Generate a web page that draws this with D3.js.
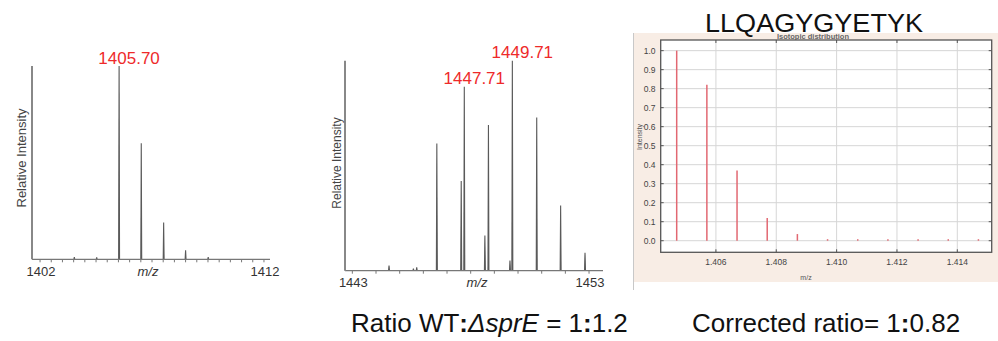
<!DOCTYPE html>
<html>
<head>
<meta charset="utf-8">
<script src="https://cdn.jsdelivr.net/npm/d3@7"></script>
<style>
body { margin: 0; background: #fff; }
svg { display: block; font-family: "Liberation Sans", Arial, sans-serif; }
</style>
</head>
<body>
<svg width="998" height="341"></svg>
<script>
// WT spectrum (left)
var wtMz = [1403.53, 1404.53, 1405.53, 1406.52, 1407.52, 1408.50, 1409.51];
var wtInt = [0.012, 0.01, 1.0, 0.6, 0.19, 0.047, 0.012];
var wtLabels = [{ peak: 2, text: "1405.70" }];
var wtTicks = [1402, 1412];

// mixed WT / sprE spectrum (middle)
var mixMz = [1444.55, 1445.58, 1445.72, 1446.57, 1447.60, 1447.73, 1448.60, 1448.75, 1449.66, 1449.76, 1450.79, 1451.80, 1452.83];
var mixInt = [0.024, 0.01, 0.016, 0.606, 0.427, 0.876, 0.167, 0.694, 0.048, 1.0, 0.73, 0.31, 0.086];
var mixLabels = [{ peak: 5, text: "1447.71" }, { peak: 9, text: "1449.71" }];
var mixTicks = [1443, 1453];

// theoretical isotope distribution (right)
var isoMz = [1.4047, 1.4057, 1.4067, 1.4077, 1.4087, 1.4097, 1.4107, 1.4117, 1.4127, 1.4137, 1.4147];
var isoInt = [1.0, 0.82, 0.37, 0.12, 0.035, 0.008, 0.003, 0.003, 0.002, 0.002, 0.002];
var isoXTicks = [1.406, 1.408, 1.410, 1.412, 1.414];
var isoYTicks = [0.0, 0.1, 0.2, 0.3, 0.4, 0.5, 0.6, 0.7, 0.8, 0.9, 1.0];

var svg = d3.select("svg");

function spectrum(mz, inten, labels, ticks, o) {
	var g = svg.append("g");
	var x = d3.scaleLinear().domain(o.dom).range(o.range);
	var y = d3.scaleLinear().domain([0, 1]).range([o.base, o.top]);

	var peak = d3.line().x(d => x(d[0])).y(d => y(d[1]));
	mz.forEach((m, i) => {
		g.append("path")
			.attr("d", peak([[m - 0.02, 0], [m, inten[i]], [m + 0.02, 0]]))
			.attr("fill", "#5a5a5a")
			.attr("stroke", "#5a5a5a")
			.attr("stroke-width", 1.1);
	});

	// minor ticks along the baseline
	g.selectAll(".mt")
		.data(d3.range(ticks[0], ticks[1] + 0.001, o.step))
		.enter().append("line")
		.attr("x1", d => x(d)).attr("x2", d => x(d))
		.attr("y1", o.base).attr("y2", o.base + 3)
		.attr("stroke", "#777").attr("stroke-width", 1);

	g.append("line")
		.attr("x1", o.range[0]).attr("x2", o.range[1])
		.attr("y1", o.base).attr("y2", o.base)
		.attr("stroke", "#777").attr("stroke-width", 1.3);
	g.append("line")
		.attr("x1", o.range[0]).attr("x2", o.range[0])
		.attr("y1", o.base).attr("y2", o.top)
		.attr("stroke", "#888").attr("stroke-width", 2);

	g.selectAll(".tl")
		.data(ticks)
		.enter().append("text")
		.attr("x", d => x(d) + 1)
		.attr("y", o.base + 16.5)
		.attr("text-anchor", "middle")
		.attr("font-size", 13)
		.attr("fill", "#333")
		.text(d => d);

	g.append("text")
		.attr("x", o.mzX)
		.attr("y", o.base + 16.5)
		.attr("text-anchor", "middle")
		.attr("font-size", 13)
		.attr("font-style", "italic")
		.attr("fill", "#333")
		.text("m/z");

	g.append("text")
		.attr("transform", "translate(" + o.yLabX + "," + o.yLabY + ") rotate(-90)")
		.attr("text-anchor", "middle")
		.attr("font-size", o.yLabSize)
		.attr("fill", "#444")
		.text("Relative Intensity");

	labels.forEach(l => {
		g.append("text")
			.attr("x", x(mz[l.peak]) + 10)
			.attr("y", y(inten[l.peak]) - 2.5)
			.attr("text-anchor", "middle")
			.attr("font-size", 17)
			.attr("fill", "#ee2a2a")
			.text(l.text);
	});
}

spectrum(wtMz, wtInt, wtLabels, wtTicks, {
	dom: [1401.64, 1412.27], range: [32, 270], base: 259.3, top: 66,
	step: 0.5, mzX: 148, yLabX: 25.5, yLabY: 158, yLabSize: 13
});
spectrum(mixMz, mixInt, mixLabels, mixTicks, {
	dom: [1442.69, 1453.59], range: [345, 603], base: 270.7, top: 60.7,
	step: 1, mzX: 477, yLabX: 340.5, yLabY: 163, yLabSize: 12
});

// right panel
var p = svg.append("g");
p.append("clipPath").attr("id", "pclip")
	.append("rect").attr("x", 633).attr("y", 34).attr("width", 365).attr("height", 260);
p.append("rect")
	.attr("x", 633).attr("y", 33).attr("width", 365).attr("height", 249)
	.attr("fill", "#f8ede5");
p.append("line")
	.attr("x1", 633.5).attr("x2", 633.5).attr("y1", 33).attr("y2", 290)
	.attr("stroke", "#c8c8c8");
p.append("text")
	.attr("clip-path", "url(#pclip)")
	.attr("x", 813).attr("y", 38.5)
	.attr("text-anchor", "middle")
	.attr("font-size", 7.5).attr("font-weight", "bold")
	.attr("fill", "#666")
	.text("Isotopic distribution");

var px = d3.scaleLinear().domain([1.40417, 1.41514]).range([660.7, 991.7]);
var py = d3.scaleLinear().domain([-0.061, 1.056]).range([252.3, 40]);

p.append("rect")
	.attr("x", 660.7).attr("y", 40).attr("width", 331).attr("height", 212.3)
	.attr("fill", "#fff");

p.selectAll(".gx").data(isoXTicks).enter().append("line")
	.attr("x1", d => px(d)).attr("x2", d => px(d))
	.attr("y1", 40).attr("y2", 252.3)
	.attr("stroke", "#d6d6d6");
p.selectAll(".gy").data(isoYTicks).enter().append("line")
	.attr("x1", 660.7).attr("x2", 991.7)
	.attr("y1", d => py(d)).attr("y2", d => py(d))
	.attr("stroke", "#d6d6d6");

// inside ticks on all four sides
p.selectAll(".tb").data(isoXTicks).enter().append("path")
	.attr("d", d => "M" + px(d) + ",252.3v-3M" + px(d) + ",40v3")
	.attr("stroke", "#555");
p.selectAll(".tlr").data(isoYTicks).enter().append("path")
	.attr("d", d => "M660.7," + py(d) + "h3M991.7," + py(d) + "h-3")
	.attr("stroke", "#555");

p.selectAll(".stem").data(isoMz).enter().append("line")
	.attr("x1", d => px(d)).attr("x2", d => px(d))
	.attr("y1", py(0))
	.attr("y2", (d, i) => Math.min(py(isoInt[i]), py(0) - 1.5))
	.attr("stroke", "#e26872")
	.attr("stroke-width", 1.5);

p.append("rect")
	.attr("x", 660.7).attr("y", 40).attr("width", 331).attr("height", 212.3)
	.attr("fill", "none").attr("stroke", "#555").attr("stroke-width", 1.3);

p.selectAll(".yl").data(isoYTicks).enter().append("text")
	.attr("x", 655.5).attr("y", d => py(d) + 3)
	.attr("text-anchor", "end")
	.attr("font-size", 8.5).attr("fill", "#444")
	.text(d => d.toFixed(1));
p.selectAll(".xl").data(isoXTicks).enter().append("text")
	.attr("x", d => px(d)).attr("y", 264.5)
	.attr("text-anchor", "middle")
	.attr("font-size", 8.5).attr("fill", "#444")
	.text(d => d.toFixed(3));
p.append("text")
	.attr("x", 806).attr("y", 279.5)
	.attr("text-anchor", "middle")
	.attr("font-size", 7).attr("fill", "#555")
	.text("m/z");
p.append("text")
	.attr("transform", "translate(642,137) rotate(-90)")
	.attr("text-anchor", "middle")
	.attr("font-size", 7).attr("fill", "#555")
	.text("Intensity");

svg.append("text")
	.attr("x", 705).attr("y", 31.7)
	.attr("font-size", 25.5)
	.attr("textLength", 218).attr("lengthAdjust", "spacingAndGlyphs")
	.attr("fill", "#111")
	.text("LLQAGYGYETYK");

// ratios under the plots
var r1 = svg.append("text").attr("x", 351).attr("y", 331.5).attr("font-size", 26).attr("fill", "#111");
r1.append("tspan").text("Ratio WT");
r1.append("tspan").attr("font-weight", "bold").text(":");
r1.append("tspan").attr("font-style", "italic").text("\u0394sprE");
r1.append("tspan").text(" = 1");
r1.append("tspan").attr("font-weight", "bold").text(":");
r1.append("tspan").text("1.2");

var r2 = svg.append("text").attr("x", 692).attr("y", 331.5).attr("font-size", 26).attr("fill", "#111");
r2.append("tspan").text("Corrected ratio= 1");
r2.append("tspan").attr("font-weight", "bold").text(":");
r2.append("tspan").text("0.82");
</script>
</body>
</html>
